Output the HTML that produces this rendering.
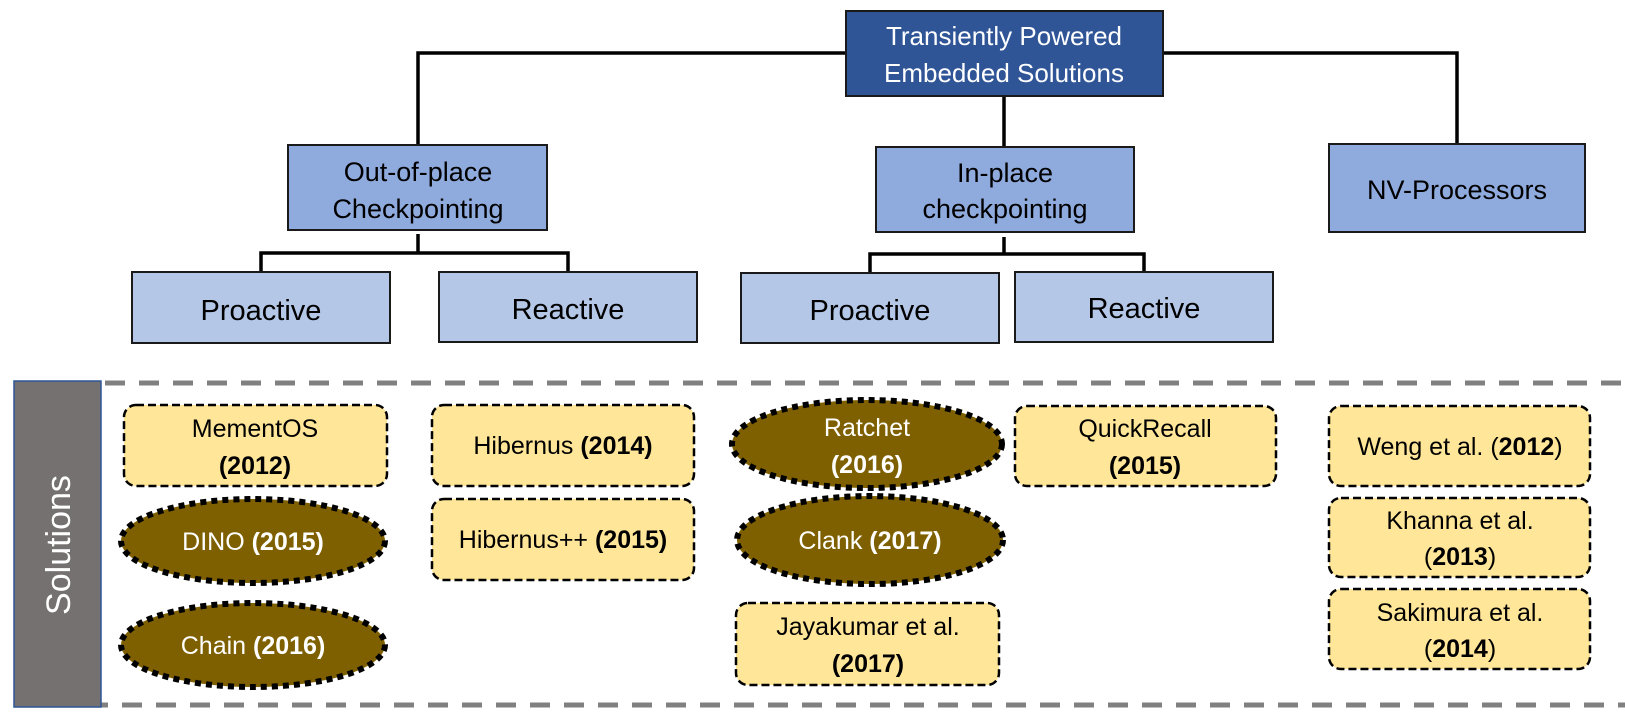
<!DOCTYPE html>
<html><head><meta charset="utf-8"><style>
html,body{margin:0;padding:0;background:#fff;}
svg{display:block;}
text{font-family:"Liberation Sans",sans-serif;}
</style></head><body>
<svg width="1625" height="720" viewBox="0 0 1625 720" xmlns="http://www.w3.org/2000/svg">
<g stroke="#000" stroke-width="3.5" fill="none">
<polyline points="418,145 418,53 846,53"/>
<polyline points="1163,53 1457,53 1457,144"/>
<line x1="1004" y1="96" x2="1004" y2="146"/>
<line x1="418" y1="234" x2="418" y2="253"/>
<polyline points="261,272 261,253 568,253 568,272"/>
<line x1="1004" y1="237" x2="1004" y2="254"/>
<polyline points="870,273 870,254 1144,254 1144,272"/>
</g>
<g stroke="#1a1a1a" stroke-width="2">
<rect x="846" y="11" width="317" height="85" fill="#2F5597"/>
<rect x="288" y="145" width="259" height="85" fill="#8FAADC"/>
<rect x="876" y="147" width="258" height="85" fill="#8FAADC"/>
<rect x="1329" y="144" width="256" height="88" fill="#8FAADC"/>
<rect x="132" y="272" width="258" height="71" fill="#B4C7E7"/>
<rect x="439" y="272" width="258" height="70" fill="#B4C7E7"/>
<rect x="741" y="273" width="258" height="70" fill="#B4C7E7"/>
<rect x="1015" y="272" width="258" height="70" fill="#B4C7E7"/>
</g>
<g text-anchor="middle" font-size="26">
<text x="1004" y="45" fill="#fff">Transiently Powered</text>
<text x="1004" y="82" fill="#fff">Embedded Solutions</text>
<text x="418" y="181" font-size="27">Out-of-place</text>
<text x="418" y="218" font-size="27">Checkpointing</text>
<text x="1005" y="182" font-size="27">In-place</text>
<text x="1005" y="218" font-size="27">checkpointing</text>
<text x="1457" y="199" font-size="27">NV-Processors</text>
<text x="261" y="320" font-size="29">Proactive</text>
<text x="568" y="319" font-size="29">Reactive</text>
<text x="870" y="320" font-size="29">Proactive</text>
<text x="1144" y="318" font-size="29">Reactive</text>
</g>
<g stroke="#808080" stroke-width="5" stroke-dasharray="20 14">
<line x1="105" y1="383" x2="1625" y2="383"/>
<line x1="20" y1="705" x2="1625" y2="705"/>
</g>
<rect x="14" y="381" width="87" height="326" fill="#767171" stroke="#2F5597" stroke-width="1.5"/>
<text x="0" y="0" transform="translate(70,545) rotate(-90)" text-anchor="middle" font-size="34" fill="#fff">Solutions</text>
<g fill="#FFE699" stroke="#000" stroke-width="2.5" stroke-dasharray="8 4">
<rect x="124" y="405" width="263" height="81" rx="12"/>
<rect x="432" y="405" width="262" height="81" rx="12"/>
<rect x="432" y="499" width="262" height="81" rx="12"/>
<rect x="1015" y="406" width="261" height="80" rx="12"/>
<rect x="736" y="603" width="263" height="82" rx="12"/>
<rect x="1329" y="406" width="261" height="80" rx="12"/>
<rect x="1329" y="498" width="261" height="79" rx="12"/>
<rect x="1329" y="589" width="261" height="80" rx="12"/>
</g>
<g fill="#7F6000" stroke="#000" stroke-width="6" stroke-dasharray="6 5">
<ellipse cx="253" cy="541" rx="132" ry="42"/>
<ellipse cx="253" cy="645" rx="132" ry="42"/>
<ellipse cx="867" cy="444" rx="135" ry="44"/>
<ellipse cx="870" cy="540" rx="133" ry="44"/>
</g>
<g text-anchor="middle" font-size="25">
<text x="255" y="437">MementOS</text>
<text x="255" y="474" font-weight="bold">(2012)</text>
<text x="253" y="550" fill="#fff">DINO <tspan font-weight="bold">(2015)</tspan></text>
<text x="253" y="654" fill="#fff">Chain <tspan font-weight="bold">(2016)</tspan></text>
<text x="563" y="454">Hibernus <tspan font-weight="bold">(2014)</tspan></text>
<text x="563" y="548">Hibernus++ <tspan font-weight="bold">(2015)</tspan></text>
<text x="867" y="436" fill="#fff">Ratchet</text>
<text x="867" y="473" fill="#fff" font-weight="bold">(2016)</text>
<text x="870" y="549" fill="#fff">Clank <tspan font-weight="bold">(2017)</tspan></text>
<text x="868" y="635">Jayakumar et al.</text>
<text x="868" y="672" font-weight="bold">(2017)</text>
<text x="1145" y="437">QuickRecall</text>
<text x="1145" y="474" font-weight="bold">(2015)</text>
<text x="1460" y="455">Weng et al. (<tspan font-weight="bold">2012</tspan>)</text>
<text x="1460" y="529">Khanna et al.</text>
<text x="1460" y="565">(<tspan font-weight="bold">2013</tspan>)</text>
<text x="1460" y="621">Sakimura et al.</text>
<text x="1460" y="657">(<tspan font-weight="bold">2014</tspan>)</text>
</g>
</svg>
</body></html>
